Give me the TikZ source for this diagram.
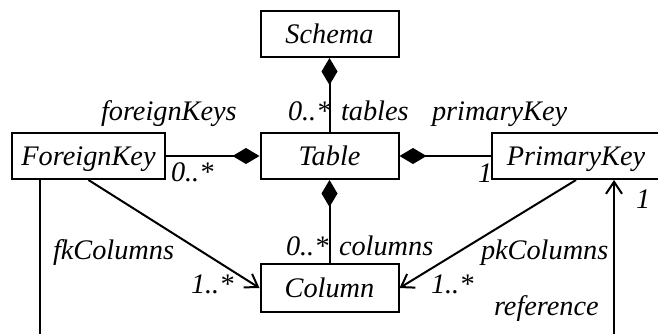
\documentclass[tikz,border=0pt]{standalone}
\usepackage{fontspec}
\setmainfont{Liberation Serif}[ItalicFont={Liberation Serif Italic}]
\usetikzlibrary{arrows.meta}

\begin{document}
\begin{tikzpicture}[x=0.5pt,y=-0.5pt,line width=1pt,
	font=\fontsize{14.15}{17}\selectfont\rmfamily\itshape,
	clase/.style={draw,inner sep=0pt,minimum height=23pt,text height=9.6pt,text depth=0pt},
	comp/.style={-{Diamond[length=13.5pt,width=8pt]}},
	nav/.style={-{Straight Barb[length=6pt,width=8pt]}},
	rol/.style={inner sep=0pt,anchor=base west}]
	\clip (0,0) rectangle (658,333);

% clases
	\node[clase,minimum width=69pt] (schema) at (329.5,34) {Schema};
	\node[clase,minimum width=69pt] (table) at (329.5,156) {Table};
	\node[clase,minimum width=76.5pt] (fkey) at (88.5,156) {ForeignKey};
	\node[clase,minimum width=84pt] (pkey) at (576,156) {PrimaryKey};
	\node[clase,minimum width=69pt,minimum height=24pt] (column) at (329.5,288) {Column};
	\coordinate (fkbot) at (40,345);
	\coordinate (refbot) at (614,345);

% composiciones
	\draw[comp] (table) -- (schema);
	\draw[comp] (column) -- (table);
	\draw[comp] (fkey) -- (table);
	\draw[comp] (pkey) -- (table);

% asociaciones
	\draw[nav] (fkey.south) -- (column.west);
	\draw[nav] (pkey.south) -- (column.east);
	\draw (fkey.south -| fkbot) -- (fkbot);
	\draw[nav] (refbot) -- (refbot |- pkey.south);

% roles y multiplicidades
	\node[rol] (m-tables) at (287,120) {0..*};
	\node[rol] (r-tables) at (340,120) {tables};
	\node[rol] (r-fkeys) at (100,120) {foreignKeys};
	\node[rol] (r-pkey) at (431,120) {primaryKey};
	\node[rol] (m-fkeys) at (170,181.5) {0..*};
	\node[rol] (m-pkey) at (477,182.5) {1};
	\node[rol] (m-columns) at (285,255) {0..*};
	\node[rol] (r-columns) at (338,255) {columns};
	\node[rol] (r-fkcols) at (52,259) {fkColumns};
	\node[rol] (m-fkcols) at (190,293) {1..*};
	\node[rol] (r-pkcols) at (480,259) {pkColumns};
	\node[rol] (m-pkcols) at (430,293) {1..*};
	\node[rol] (m-ref) at (635,208) {1};
	\node[rol] (r-ref) at (493,315) {reference};
\end{tikzpicture}
\end{document}
